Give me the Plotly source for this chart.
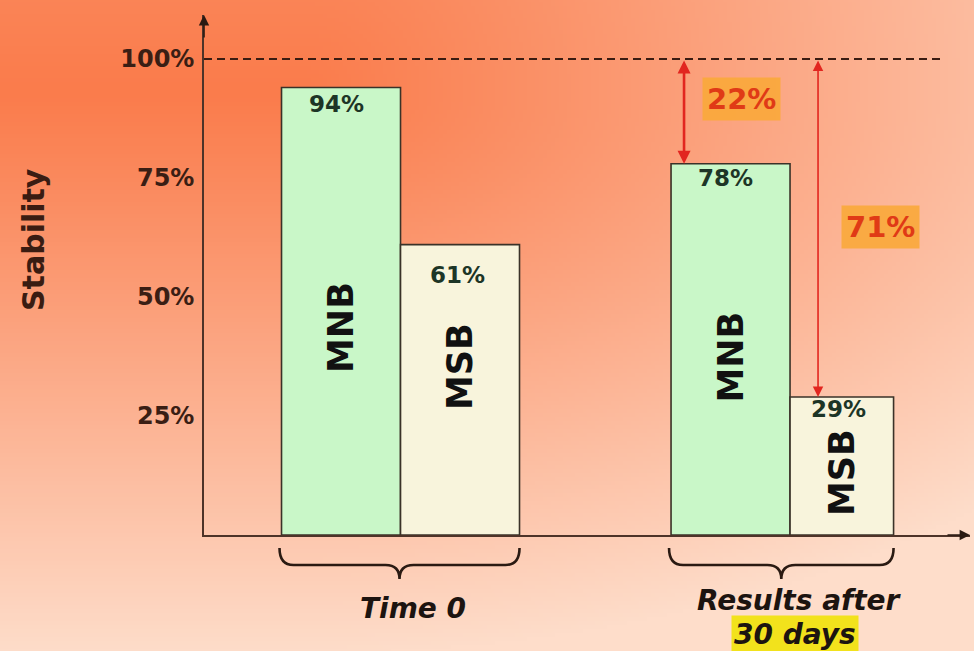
import base64
import struct
import zlib

import numpy as np
import plotly.graph_objects as go

# ---- data -------------------------------------------------------------
groups = ["Time 0", "Results after 30 days"]
series_names = ["MNB", "MSB"]
mnb_values = [94, 78]
msb_values = [61, 29]
tick_values = [25, 50, 75, 100]
tick_labels = ["25%", "50%", "75%", "100%"]
reference_level = 100

# ---- geometry ---------------------------------------------------------
W, H = 974, 651
L, R, T, B = 204, 4, 15, 116
PW, PH = W - L - R, H - T - B
PX_PER_UNIT = 4.76                     # vertical pixels per percent
Y_TOP = PH / PX_PER_UNIT
X_RANGE = [-0.5045, 1.462]
BAR_W = 0.3055
msb_widths = [BAR_W, BAR_W * 0.87]

FONT = "DejaVu Sans"
AXIS_COLOR = "#4d3328"


def x_to_px(x):
    return L + (x - X_RANGE[0]) / (X_RANGE[1] - X_RANGE[0]) * PW


def paper_x(px):
    return (px - L) / PW


def paper_y(py):
    return (T + PH - py) / PH


# ---- warm gradient backdrop as an inline PNG --------------------------
def gradient_png(w, h, scale):
    ys, xs = np.mgrid[0:h, 0:w].astype(float)
    xs *= scale
    ys *= scale
    dx = np.clip(xs - 300, 0, None) / 1000.0
    dy = (ys - 90) / 560.0
    dy = np.where(dy < 0, dy * 0.6, dy)
    t = np.clip(np.sqrt(dx ** 2 + dy ** 2), 0, 1) ** 1.05
    hot = np.array([250, 124, 76], float)
    light = np.array([254, 221, 202], float)
    img = hot + (light - hot) * t[..., None]
    arr = np.clip(img, 0, 255).astype(np.uint8)
    raw = b"".join(b"\x00" + arr[r].tobytes() for r in range(h))

    def chunk(tag, data):
        return (struct.pack(">I", len(data)) + tag + data
                + struct.pack(">I", zlib.crc32(tag + data) & 0xFFFFFFFF))

    png = (b"\x89PNG\r\n\x1a\n"
           + chunk(b"IHDR", struct.pack(">IIBBBBB", w, h, 8, 2, 0, 0, 0))
           + chunk(b"IDAT", zlib.compress(raw, 9))
           + chunk(b"IEND", b""))
    return "data:image/png;base64," + base64.b64encode(png).decode()


bg_src = gradient_png(W // 4, H // 4 + 1, 4)

# ---- bars -------------------------------------------------------------
xpos = list(range(len(groups)))
fig = go.Figure()
fig.add_trace(go.Bar(
    x=xpos, y=mnb_values, width=BAR_W, offset=-BAR_W, name=series_names[0],
    marker=dict(color="#c9f7c8", line=dict(color="#3a3228", width=1.6)),
    hoverinfo="skip",
))
fig.add_trace(go.Bar(
    x=xpos, y=msb_values, width=msb_widths, offset=0, name=series_names[1],
    marker=dict(color="#f8f4dc", line=dict(color="#3a3228", width=1.6)),
    hoverinfo="skip",
))

annotations = []


def label(**kw):
    kw.setdefault("showarrow", False)
    kw.setdefault("xanchor", "center")
    kw.setdefault("yanchor", "middle")
    annotations.append(kw)


# value labels near each bar top, series names written vertically inside
value_shift = [[-16, -14], [-30, -12]]
name_y = [[43.5, 37.4], [35.3, 13.2]]
for s, (vals, widths) in enumerate([(mnb_values, [BAR_W] * 2), (msb_values, msb_widths)]):
    for g, v in enumerate(vals):
        cx = g - BAR_W / 2 if s == 0 else g + widths[g] / 2
        label(x=cx, y=v, xref="x", yref="y", text=f"<b>{v}%</b>",
              yshift=value_shift[s][g], xshift=-5 if s == 0 else -3,
              font=dict(family=FONT, size=23, color="#1d3526"))
        label(x=cx, y=name_y[s][g], xref="x", yref="y",
              text=f"<b>{series_names[s]}</b>", textangle=-90,
              font=dict(family=FONT, size=35, color="#111111"))

# red drop arrows from the 100% line to the 30-day bar tops
ARROW_RED = "#e2261f"
drop_arrows = [
    (1 - BAR_W + 13 / 389.5, mnb_values[1], 2.6, 57, 2.6),
    (1 + 28 / 389.5, msb_values[1], 1.6, 62, 0.2),
]
for ax_x, top, lw, lab_dx, lab_dy in drop_arrows:
    annotations.append(dict(
        x=ax_x, y=top, ax=ax_x, ay=reference_level, xref="x", yref="y",
        axref="x", ayref="y", text="", showarrow=True, arrowside="end+start",
        arrowhead=2, startarrowhead=2, arrowsize=1.3 if lw < 2 else 1,
        startarrowsize=1.3 if lw < 2 else 1,
        arrowwidth=lw, arrowcolor=ARROW_RED, standoff=0, startstandoff=0,
    ))
    drop = reference_level - top
    label(x=ax_x, y=(reference_level + top) / 2 + lab_dy, xref="x", yref="y",
          xshift=lab_dx, text=f"<b>{drop}%</b>",
          bgcolor="rgba(250,168,58,0.9)", borderpad=4,
          font=dict(family=FONT, size=29, color="#e03a16"))

# axis arrowheads
annotations.append(dict(x=0, y=1, xref="paper", yref="paper", ax=0, ay=24,
                        text="", showarrow=True, arrowhead=2, arrowsize=1.3,
                        arrowwidth=1.6, arrowcolor="#2a1a12", standoff=0))
annotations.append(dict(x=1, y=0, xref="paper", yref="paper", ax=-24, ay=0,
                        text="", showarrow=True, arrowhead=2, arrowsize=1.3,
                        arrowwidth=1.6, arrowcolor="#2a1a12", standoff=0))

# y-axis title
label(x=paper_x(33), y=paper_y(240), xref="paper", yref="paper",
      text="<b>Stability</b>", textangle=-90,
      font=dict(family=FONT, size=30, color="#3a1c12"))

# group captions under the braces
label(x=paper_x(x_to_px(0) + 12), y=paper_y(608), xref="paper", yref="paper",
      text="<b><i>Time 0</i></b>",
      font=dict(family=FONT, size=28, color="#1c1410"))
label(x=paper_x(x_to_px(1) + 9), y=paper_y(600), xref="paper", yref="paper",
      text="<b><i>Results after</i></b>",
      font=dict(family=FONT, size=28, color="#1c1410"))
label(x=paper_x(x_to_px(1) + 5), y=paper_y(634), xref="paper", yref="paper",
      text="<b><i>30 days</i></b>", bgcolor="#f2e21c", borderpad=2,
      font=dict(family=FONT, size=28, color="#1c1410"))

# ---- shapes: 100% reference line and curly braces ---------------------
shapes = [dict(
    type="line", xref="paper", yref="y", x0=0, x1=paper_x(940),
    y0=reference_level, y1=reference_level,
    line=dict(color="#3a1c12", width=2, dash="8px,5px"),
)]


def brace(x0, x1, ytop=548, ymid=565, ytip=579, r=14):
    xc = (x0 + x1) / 2
    pts = [("M", [(x0, ytop)]),
           ("Q", [(x0, ymid), (x0 + r, ymid)]),
           ("L", [(xc - r, ymid)]),
           ("Q", [(xc, ymid), (xc, ytip)]),
           ("Q", [(xc, ymid), (xc + r, ymid)]),
           ("L", [(x1 - r, ymid)]),
           ("Q", [(x1, ymid), (x1, ytop)])]
    parts = []
    for cmd, coords in pts:
        parts.append(cmd + " ".join(f"{paper_x(px):.5f},{paper_y(py):.5f}" for px, py in coords))
    return " ".join(parts)


for g in xpos:
    x0 = x_to_px(g - BAR_W) - 2
    x1 = x_to_px(g + msb_widths[g])
    shapes.append(dict(type="path", xref="paper", yref="paper", path=brace(x0, x1),
                       line=dict(color="#2a1a12", width=2.6)))

fig.update_layout(
    width=W, height=H,
    margin=dict(l=L, r=R, t=T, b=B, pad=0),
    paper_bgcolor="#fdd6c0",
    plot_bgcolor="rgba(0,0,0,0)",
    barmode="overlay",
    showlegend=False,
    images=[dict(source=bg_src, xref="paper", yref="paper",
                 x=-L / PW, y=1 + T / PH, sizex=W / PW, sizey=H / PH,
                 xanchor="left", yanchor="top", sizing="stretch", layer="below")],
    xaxis=dict(range=X_RANGE, showgrid=False, zeroline=False, showticklabels=False,
               ticks="", showline=True, linecolor=AXIS_COLOR, linewidth=1.6,
               fixedrange=True),
    yaxis=dict(range=[0, Y_TOP], showgrid=False, zeroline=False,
               tickvals=tick_values, ticktext=[f"<b>{t}</b>" for t in tick_labels],
               tickfont=dict(family=FONT, size=24, color="#3a1e14"),
               ticks="", ticklabelstandoff=3, showline=True,
               linecolor=AXIS_COLOR, linewidth=1.6, fixedrange=True),
    annotations=annotations,
    shapes=shapes,
)

fig.write_html("out.html")
